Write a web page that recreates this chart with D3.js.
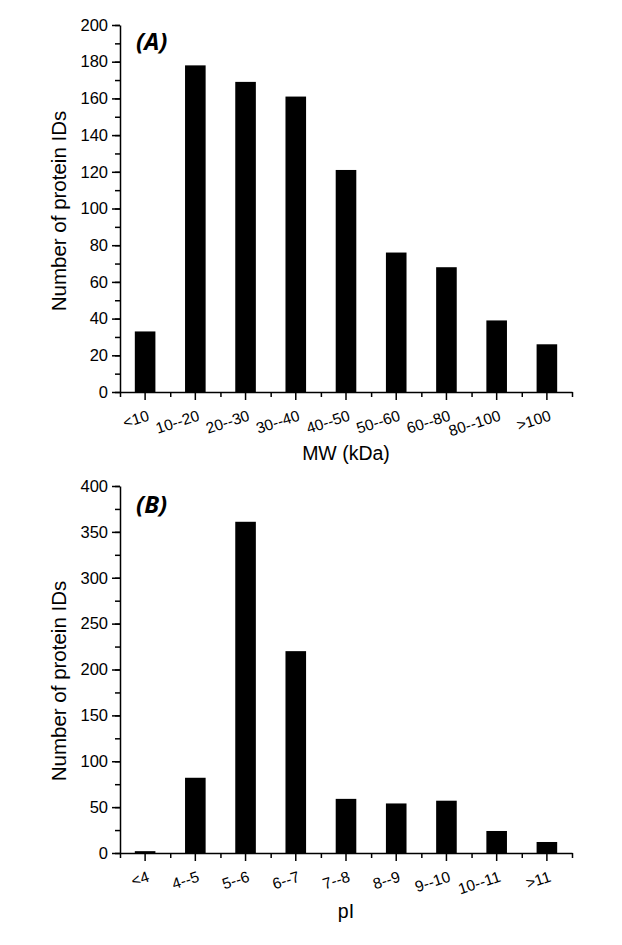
<!DOCTYPE html>
<html>
<head>
<meta charset="utf-8">
<script src="https://cdn.jsdelivr.net/npm/d3@7"></script>
<style>
  html, body { margin: 0; padding: 0; background: #fff; }
  svg { display: block; }
  text { font-family: "Liberation Sans", Arial, sans-serif; fill: #000; }
</style>
</head>
<body>
<svg id="chart" width="622" height="945"></svg>
<script>
// ---- Data ----
const mwCategories = ["<10", "10--20", "20--30", "30--40", "40--50", "50--60", "60--80", "80--100", ">100"];
const mwCounts = [33, 178, 169, 161, 121, 76, 68, 39, 26];
const mwTicks = [0, 20, 40, 60, 80, 100, 120, 140, 160, 180, 200];

const piCategories = ["<4", "4--5", "5--6", "6--7", "7--8", "8--9", "9--10", "10--11", ">11"];
const piCounts = [2, 82, 361, 220, 59, 54, 57, 24, 12];
const piTicks = [0, 50, 100, 150, 200, 250, 300, 350, 400];

const svg = d3.select("#chart");
const FF = '"Liberation Sans", Arial, sans-serif';

function panel(opts) {
  const { cats, vals, ticks, yMax, yTop, yBottom, minorStep, xTitle, tag, tagY, yTitleY, xTitleY } = opts;
  const x0 = 120, x1 = 572;
  const g = svg.append("g");

  const x = d3.scaleBand().domain(cats).range([x0, x1]).paddingInner(0.59).paddingOuter(0.295);
  const y = d3.scaleLinear().domain([0, yMax]).range([yBottom, yTop]);

  // bars
  g.selectAll("rect.bar").data(vals).enter().append("rect")
    .attr("x", (d, i) => x(cats[i]))
    .attr("width", x.bandwidth())
    .attr("y", d => y(d))
    .attr("height", d => yBottom - y(d))
    .attr("fill", "#000");

  // y minor ticks
  const minor = d3.range(0, yMax + 0.001, minorStep);
  g.append("g").attr("transform", `translate(${x0},0)`)
    .call(d3.axisLeft(y).tickValues(minor).tickSize(5).tickFormat(""))
    .call(s => s.select(".domain").remove())
    .call(s => s.selectAll("line").attr("stroke", "#000").attr("stroke-width", 1.5));

  // y major axis
  g.append("g").attr("transform", `translate(${x0},0)`)
    .call(d3.axisLeft(y).tickValues(ticks).tickSize(8).tickPadding(4).tickSizeOuter(0))
    .attr("font-family", FF).attr("font-size", 16.5)
    .call(s => s.select(".domain").attr("stroke", "#000").attr("stroke-width", 1.5))
    .call(s => s.selectAll("line").attr("stroke", "#000").attr("stroke-width", 1.5))
    .call(s => s.selectAll("text").attr("fill", "#000"));

  // x minor ticks at band edges
  const edgeScale = d3.scaleLinear().domain([0, cats.length]).range([x0, x1]);
  g.append("g").attr("transform", `translate(0,${yBottom})`)
    .call(d3.axisBottom(edgeScale).tickValues(d3.range(0, cats.length + 1)).tickSize(5).tickFormat(""))
    .call(s => s.select(".domain").remove())
    .call(s => s.selectAll("line").attr("stroke", "#000").attr("stroke-width", 1.5));

  // x major axis
  g.append("g").attr("transform", `translate(0,${yBottom})`)
    .call(d3.axisBottom(x).tickSize(8).tickSizeOuter(0))
    .attr("font-family", FF).attr("font-size", 15.5)
    .call(s => s.select(".domain").attr("stroke", "#000").attr("stroke-width", 1.5))
    .call(s => s.selectAll("line").attr("stroke", "#000").attr("stroke-width", 1.5))
    .call(s => s.selectAll("text")
      .attr("fill", "#000")
      .attr("text-anchor", "end")
      .attr("x", null).attr("y", null).attr("dy", null)
      .attr("transform", "translate(5,28) rotate(-18)"));

  // axis titles
  g.append("text")
    .attr("transform", `translate(66,${yTitleY}) rotate(-90)`)
    .attr("text-anchor", "middle")
    .attr("font-family", FF)
    .attr("font-size", 20.5)
    .text("Number of protein IDs");

  g.append("text")
    .attr("x", 346).attr("y", xTitleY)
    .attr("text-anchor", "middle")
    .attr("font-family", FF)
    .attr("font-size", 19.5)
    .text(xTitle);

  g.append("text")
    .attr("x", 136).attr("y", tagY)
    .attr("font-size", 24)
    .attr("font-weight", 700)
    .attr("font-style", "italic")
    .style("font-family", '"Open Sans", "Noto Sans", sans-serif')
    .text(tag);
}

panel({ cats: mwCategories, vals: mwCounts, ticks: mwTicks, yMax: 200, yTop: 25, yBottom: 392,
        minorStep: 10, xTitle: "MW (kDa)", tag: "(A)", tagY: 50, yTitleY: 211, xTitleY: 460 });
panel({ cats: piCategories, vals: piCounts, ticks: piTicks, yMax: 400, yTop: 486, yBottom: 853,
        minorStep: 25, xTitle: "pI", tag: "(B)", tagY: 513, yTitleY: 681, xTitleY: 918 });
</script>
</body>
</html>
